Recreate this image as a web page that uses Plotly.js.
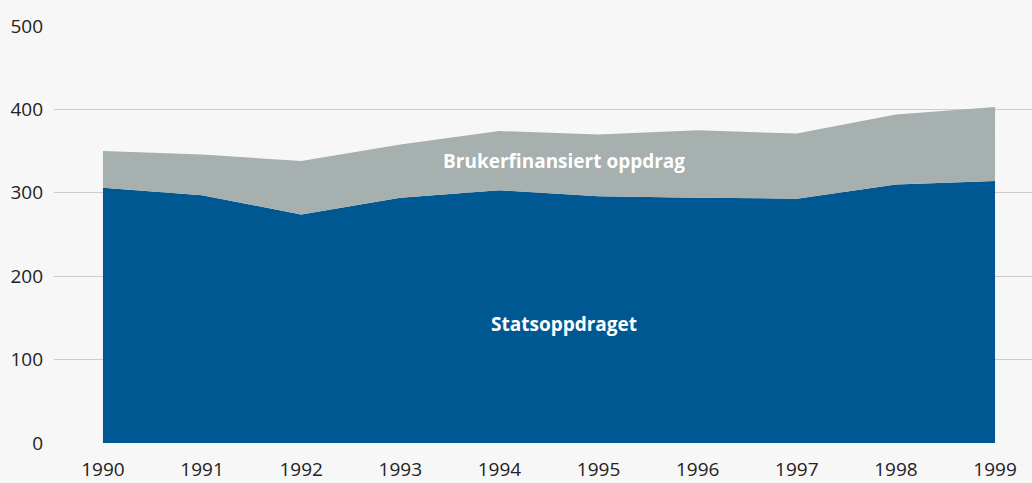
<!DOCTYPE html>
<html>
<head>
<meta charset="utf-8">
<script src="https://cdn.plot.ly/plotly-3.0.1.min.js"></script>
<style>
html,body{margin:0;padding:0;background:#f7f7f7;}
#chart{width:1032px;height:483px;}
</style>
</head>
<body>
<div id="chart"></div>
<script>
var years = [1990, 1991, 1992, 1993, 1994, 1995, 1996, 1997, 1998, 1999];
var statsoppdraget = [306, 297, 274, 294, 303, 296, 294, 293, 310, 314];
var brukerfinansiert = [44, 49, 64, 64, 71, 74, 81, 78, 84, 89];
var yTicks = [0, 100, 200, 300, 400, 500];

var traces = [
  {
    x: years, y: statsoppdraget, type: 'scatter', mode: 'none',
    stackgroup: 'one', fill: 'tonexty', fillcolor: '#005893',
    line: {width: 0}, name: 'Statsoppdraget', hoverinfo: 'x+y'
  },
  {
    x: years, y: brukerfinansiert, type: 'scatter', mode: 'none',
    stackgroup: 'one', fill: 'tonexty', fillcolor: '#a6b0af',
    line: {width: 0}, name: 'Brukerfinansiert oppdrag', hoverinfo: 'x+y'
  }
];

var layout = {
  width: 1032, height: 483,
  paper_bgcolor: '#f7f7f7', plot_bgcolor: '#f7f7f7',
  margin: {l: 54, r: 0, t: 26, b: 40},
  showlegend: false,
  font: {family: '"Open Sans", sans-serif', size: 19, color: '#222'},
  xaxis: {
    range: [1989.506, 1999.373], tickvals: years, ticktext: years.map(String),
    showgrid: false, zeroline: false, showline: false, ticks: '',
    ticklabelstandoff: 13,
    tickfont: {size: 19, color: '#222'}, fixedrange: true
  },
  yaxis: {
    range: [0, 500], tickvals: yTicks, showgrid: true, gridcolor: '#d2ccc9',
    gridwidth: 1, zeroline: false, showline: false, ticks: '',
    ticklabelstandoff: 10,
    tickfont: {size: 19, color: '#222'}, fixedrange: true
  },
  annotations: [
    {x: 1994.65, y: 338, xref: 'x', yref: 'y', text: '<b>Brukerfinansiert oppdrag</b>',
     showarrow: false, font: {size: 19, color: '#ffffff'}},
    {x: 1994.65, y: 143, xref: 'x', yref: 'y', text: '<b>Statsoppdraget</b>',
     showarrow: false, font: {size: 19, color: '#ffffff'}}
  ]
};

Plotly.newPlot('chart', traces, layout, {displayModeBar: false, staticPlot: true});
</script>
</body>
</html>
